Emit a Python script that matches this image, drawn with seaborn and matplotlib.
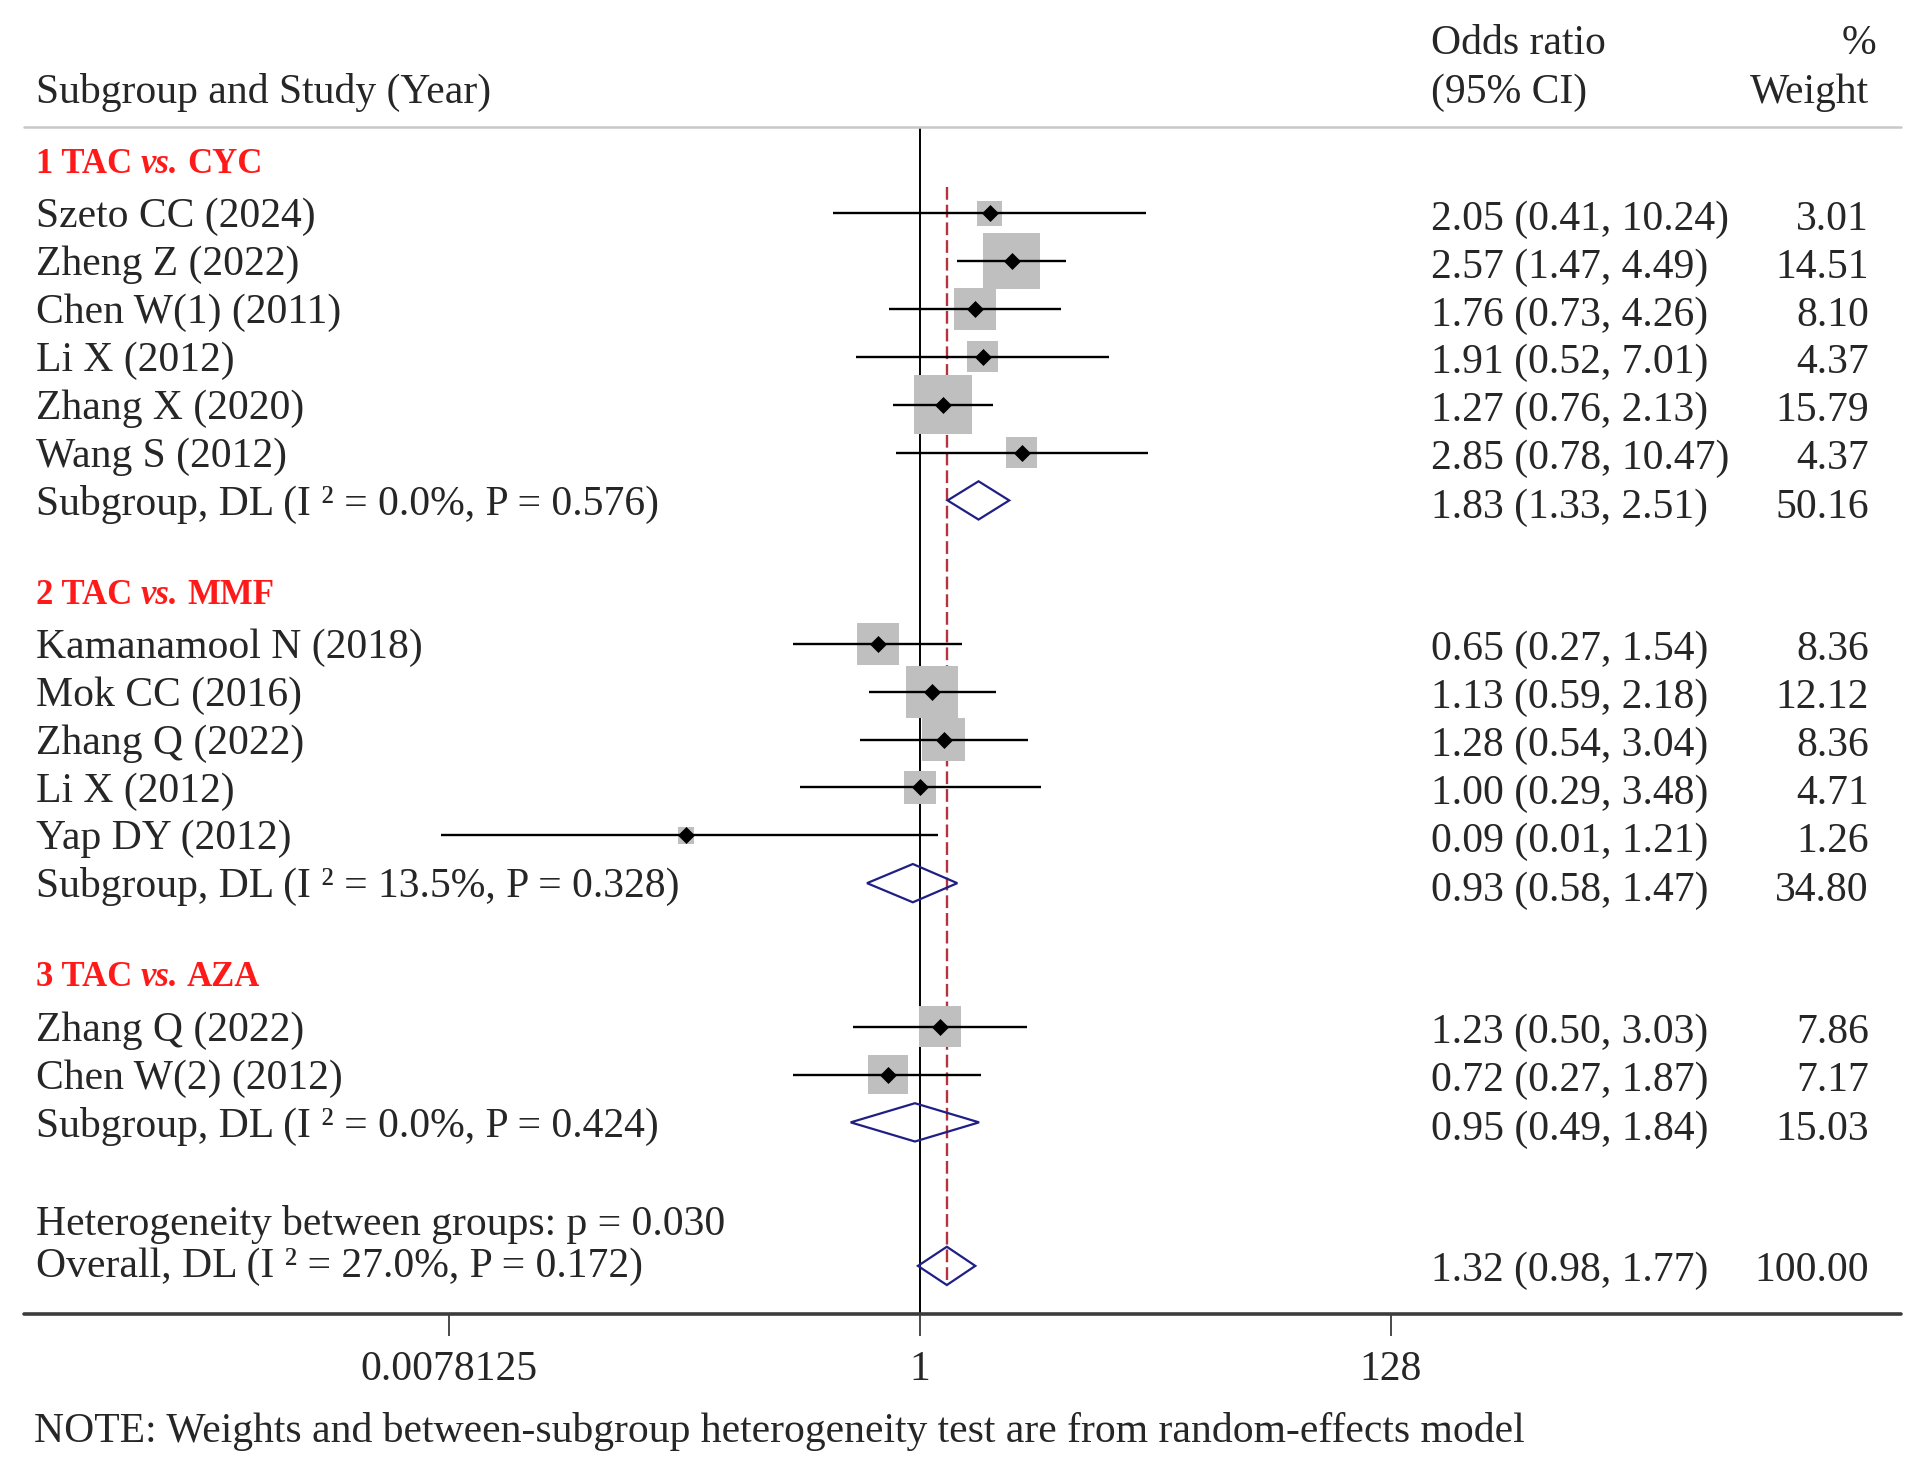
import numpy as np
import pandas as pd
import matplotlib.pyplot as plt
import seaborn as sns

sns.set_theme(style="white")
plt.rcParams['font.family'] = ['Liberation Serif', 'DejaVu Serif']

# ---- data ----
group_titles = [("1 TAC", "vs.", "CYC"), ("2 TAC", "vs.", "MMF"), ("3 TAC", "vs.", "AZA")]

g1_names = ["Szeto CC (2024)", "Zheng Z (2022)", "Chen W(1) (2011)", "Li X (2012)",
            "Zhang X (2020)", "Wang S (2012)"]
g1_or = [2.05, 2.57, 1.76, 1.91, 1.27, 2.85]
g1_lo = [0.41, 1.47, 0.73, 0.52, 0.76, 0.78]
g1_hi = [10.24, 4.49, 4.26, 7.01, 2.13, 10.47]
g1_wt = [3.01, 14.51, 8.10, 4.37, 15.79, 4.37]

g2_names = ["Kamanamool N (2018)", "Mok CC (2016)", "Zhang Q (2022)", "Li X (2012)", "Yap DY (2012)"]
g2_or = [0.65, 1.13, 1.28, 1.00, 0.09]
g2_lo = [0.27, 0.59, 0.54, 0.29, 0.0072]
g2_hi = [1.54, 2.18, 3.04, 3.48, 1.21]
g2_wt = [8.36, 12.12, 8.36, 4.71, 1.26]

g3_names = ["Zhang Q (2022)", "Chen W(2) (2012)"]
g3_or = [1.23, 0.72]
g3_lo = [0.50, 0.27]
g3_hi = [3.03, 1.87]
g3_wt = [7.86, 7.17]

sub_or = [1.83, 0.93, 0.95]
sub_lo = [1.33, 0.58, 0.49]
sub_hi = [2.51, 1.47, 1.84]
sub_wt = [50.16, 34.80, 15.03]
sub_i2 = [0.0, 13.5, 0.0]
sub_p = [0.576, 0.328, 0.424]

overall = (1.32, 0.98, 1.77)
overall_i2, overall_p = 27.0, 0.172
het_between_p = 0.030

tick_vals = [2 ** -7, 1, 2 ** 7]
tick_labels = ["0.0078125", "1", "128"]

groups = [(g1_names, g1_or, g1_lo, g1_hi, g1_wt),
          (g2_names, g2_or, g2_lo, g2_hi, g2_wt),
          (g3_names, g3_or, g3_lo, g3_hi, g3_wt)]

# row layout
title_rows, sub_rows, recs = [], [], []
r = 1
for gi, (names, ors, los, his, wts) in enumerate(groups):
    title_rows.append(r)
    r += 1
    for n, o, lo, hi, w in zip(names, ors, los, his, wts):
        recs.append(dict(name=n, est=o, lo=lo, hi=hi, weight=w, row=r))
        r += 1
    sub_rows.append(r)
    r += 2
het_row = r
overall_row = r + 1
axis_row = r + 2
df = pd.DataFrame(recs)

FS = 30
FS_T = 25
NAVY = '#1f1f86'
LEFT = 0.019
CI_X = 0.748
WT_X = 0.977
DY = 0.08   # text sits a touch lower than the marks

fig = plt.figure(figsize=(19.13, 14.74), dpi=100)
ax = fig.add_axes([0, 0, 1, 1])
ax.set_xscale('log', base=2)
x1 = 754 / 1568
unit = (386 / 7) / 1568
ax.set_xlim(2 ** (-x1 / unit), 2 ** ((1 - x1) / unit))
ax.set_ylim(28.35, -2.46)
ax.axis('off')
yt = ax.get_yaxis_transform()

# boxes, area proportional to weight
wmin, wmax = df['weight'].min(), df['weight'].max()
BOX = 113.5
sns.scatterplot(data=df, x='est', y='row', size='weight', sizes=(BOX * wmin, BOX * wmax),
                size_norm=(wmin, wmax), marker='s', color='#bfbfbf', linewidth=0,
                legend=False, ax=ax, zorder=2)
ax.hlines(df['row'], df['lo'], df['hi'], color='black', lw=1.7, zorder=3)
sns.scatterplot(data=df, x='est', y='row', marker='D', color='black', s=75,
                linewidth=0, legend=False, ax=ax, zorder=4)

# diamonds
for o, lo, hi, rr in zip(sub_or + [overall[0]], sub_lo + [overall[1]],
                         sub_hi + [overall[2]], sub_rows + [overall_row]):
    ax.fill([lo, o, hi, o], [rr, rr - 0.4, rr, rr + 0.4], facecolor='none',
            edgecolor=NAVY, lw=1.6, zorder=5)

# reference lines
ax.vlines(1, 0.19, axis_row, color='black', lw=1.4, zorder=1)
ax.vlines(overall[0], 1.45, overall_row + 0.4, colors='#b3343f', lw=1.7,
          linestyles=(0, (5.4, 2.1)), zorder=1)
ax.plot([0.0128, 0.9936], [0.19, 0.19], transform=yt, color='#c8c8c8', lw=1.8)
ax.plot([0.0128, 0.9936], [axis_row, axis_row], transform=yt, color='#3c3c3c', lw=2.6)
ax.vlines(tick_vals, axis_row, axis_row + 0.46, color='#3c3c3c', lw=1.3)
for tv, tl in zip(tick_vals, tick_labels):
    ax.text(tv, axis_row + 1.1 + DY, tl, ha='center', va='center', fontsize=FS)

# headers
ax.text(LEFT, -0.6 + DY, "Subgroup and Study (Year)", transform=yt, fontsize=FS, va='center')
ax.text(CI_X, -1.62 + DY, "Odds ratio", transform=yt, fontsize=FS, va='center')
ax.text(CI_X, -0.6 + DY, "(95% CI)", transform=yt, fontsize=FS, va='center')
ax.text(0.981, -1.62 + DY, "%", transform=yt, fontsize=FS, va='center', ha='right')
ax.text(WT_X, -0.6 + DY, "Weight", transform=yt, fontsize=FS, va='center', ha='right')

# group titles
for (a, b, c), rr in zip(group_titles, title_rows):
    t1 = ax.text(LEFT, rr - 0.1 + DY, a, transform=yt, fontsize=FS_T, color='#ff1a1a',
                 weight='bold', va='center')
    t2 = ax.annotate(b, xy=(1, 0), xycoords=t1, xytext=(6, 0), textcoords='offset points',
                     fontsize=FS_T, color='#ff1a1a', weight='bold', style='italic', va='bottom')
    ax.annotate(c, xy=(1, 0), xycoords=t2, xytext=(6, 0), textcoords='offset points',
                fontsize=FS_T, color='#ff1a1a', weight='bold', va='bottom')

# study rows text
for _, s in df.iterrows():
    ax.text(LEFT, s['row'] + DY, s['name'], transform=yt, fontsize=FS, va='center')
    ax.text(CI_X, s['row'] + 0.05 + DY, f"{s['est']:.2f} ({s['lo']:.2f}, {s['hi']:.2f})",
            transform=yt, fontsize=FS, va='center')
    ax.text(WT_X, s['row'] + 0.05 + DY, f"{s['weight']:.2f}", transform=yt, fontsize=FS,
            va='center', ha='right')

for o, lo, hi, w, i2, p, rr in zip(sub_or, sub_lo, sub_hi, sub_wt, sub_i2, sub_p, sub_rows):
    ax.text(LEFT, rr + DY, f"Subgroup, DL (I \u00b2 = {i2:.1f}%, P = {p:.3f})", transform=yt,
            fontsize=FS, va='center')
    ax.text(CI_X, rr + 0.07 + DY, f"{o:.2f} ({lo:.2f}, {hi:.2f})", transform=yt, fontsize=FS,
            va='center')
    ax.text(WT_X, rr + 0.07 + DY, f"{w:.2f}", transform=yt, fontsize=FS, va='center', ha='right')

ax.text(LEFT, het_row + 0.05 + DY, f"Heterogeneity between groups: p = {het_between_p:.3f}",
        transform=yt, fontsize=FS, va='center')
ax.text(LEFT, overall_row - 0.06 + DY,
        f"Overall, DL (I \u00b2 = {overall_i2:.1f}%, P = {overall_p:.3f})",
        transform=yt, fontsize=FS, va='center')
ax.text(CI_X, overall_row + 0.02 + DY, f"{overall[0]:.2f} ({overall[1]:.2f}, {overall[2]:.2f})",
        transform=yt, fontsize=FS, va='center')
ax.text(WT_X, overall_row + 0.02 + DY, "100.00", transform=yt, fontsize=FS, va='center',
        ha='right')

ax.text(0.018, axis_row + 2.38 + DY,
        "NOTE: Weights and between-subgroup heterogeneity test are from random-effects model",
        transform=yt, fontsize=FS, va='center')

fig.savefig('out.png', dpi=100)
